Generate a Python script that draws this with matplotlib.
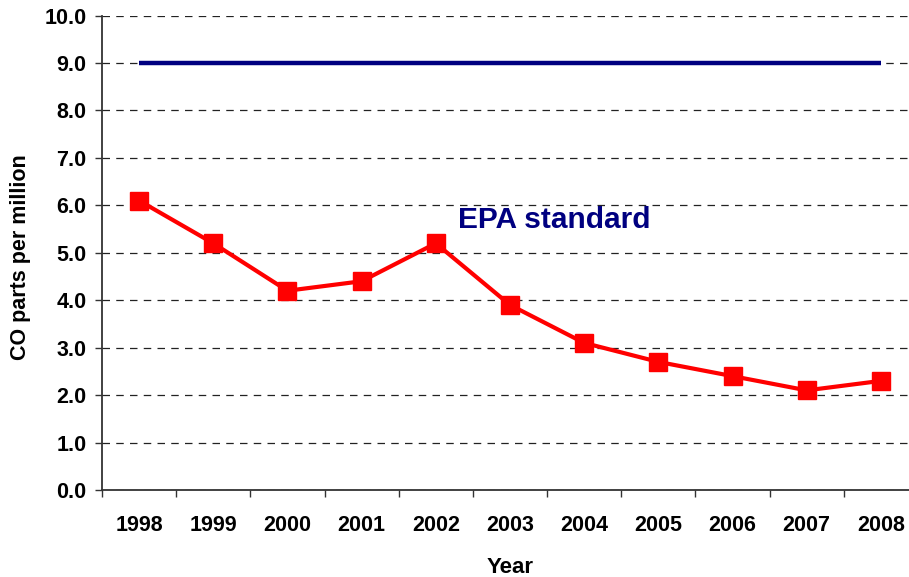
import numpy as np
import matplotlib
matplotlib.use("Agg")
import matplotlib.pyplot as plt

# datos
years = ["1998", "1999", "2000", "2001", "2002", "2003", "2004", "2005", "2006", "2007", "2008"]
co_ppm = [6.1, 5.2, 4.2, 4.4, 5.2, 3.9, 3.1, 2.7, 2.4, 2.1, 2.3]
epa_standard = [9.0] * len(years)
yticks = [0, 1, 2, 3, 4, 5, 6, 7, 8, 9, 10]

plt.rcParams['font.family'] = ['Liberation Sans', 'DejaVu Sans']
plt.rcParams['font.weight'] = 'bold'

fig = plt.figure(figsize=(9.09, 5.77), dpi=100)
# el grafico original queda un poco cortado a la derecha
ax = fig.add_axes([0.1122, 0.1508, 0.8977, 0.8222])

x = np.arange(len(years))

ax.plot(x, epa_standard, color="#000080", linewidth=3.2, solid_capstyle='butt', zorder=3)
ax.plot(x, co_ppm, color="#FF0000", linewidth=3.0, marker='s', markersize=12.5, zorder=4)

ax.text(5.6, 5.7, "EPA standard", color="#000080", fontsize=21.5, fontweight='bold',
        ha='center', va='center')

ax.set_xlim(-0.5, len(years) - 0.5)
ax.set_ylim(0, 10)

ax.set_yticks(yticks)
ax.set_yticklabels(["%.1f" % v for v in yticks])
ax.set_xticks(x)
ax.set_xticklabels(years)
ax.set_xticks(np.arange(-0.5, len(years), 1.0), minor=True)

ax.tick_params(axis='x', which='major', length=0, pad=18, labelsize=15.5)
ax.tick_params(axis='x', which='minor', length=5, width=1.0, color='#333333', direction='out')
ax.tick_params(axis='y', length=5, width=1.0, color='#333333', pad=6, labelsize=15.5)

ax.grid(True, axis='y', linestyle=(0, (6, 5)), linewidth=0.9, color='#222222')
ax.set_axisbelow(True)

for s in ['top', 'right']:
    ax.spines[s].set_visible(False)
for s in ['left', 'bottom']:
    ax.spines[s].set_color('#333333')
    ax.spines[s].set_linewidth(1.3)

ax.set_xlabel("Year", fontsize=16, fontweight='bold')
ax.set_ylabel("CO parts per million", fontsize=15.5, fontweight='bold')
ax.xaxis.set_label_coords(0.5, -0.141)
ax.yaxis.set_label_coords(-0.087, 0.49)

fig.savefig("out.png", dpi=100)
